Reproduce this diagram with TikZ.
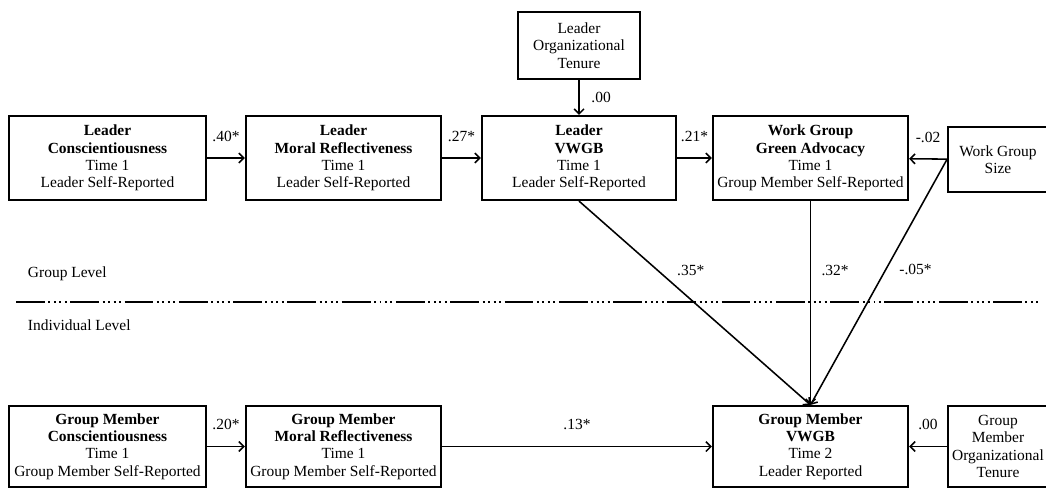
\documentclass[tikz,border=0pt]{standalone}
\usepackage{fontspec}
\setmainfont{Liberation Serif}
\usetikzlibrary{arrows.meta}

\begin{document}
\begin{tikzpicture}[x=0.025cm, y=-0.025cm,
    var/.style={draw, line width=1.5pt, align=center, inner sep=0pt, font=\fontsize{11}{12.4}\selectfont},
    link/.style={-{Straight Barb[length=3.5pt, width=7pt]}, line width=1.1pt},
    coef/.style={font=\fontsize{11}{12}\selectfont}]
    \clip (0,0) rectangle (1046,489);
    % group level
    \node[var, minimum width=4.925cm, minimum height=2.1cm] (LC) at (107.5,158){\textbf{Leader}\\\textbf{Conscientiousness}\\Time 1\\Leader Self-Reported};
    \node[var, minimum width=4.875cm, minimum height=2.1cm] (LM) at (343.5,158){\textbf{Leader}\\\textbf{Moral Reflectiveness}\\Time 1\\Leader Self-Reported};
    \node[var, minimum width=4.85cm, minimum height=2.1cm] (LV) at (579,158){\textbf{Leader}\\\textbf{VWGB}\\Time 1\\Leader Self-Reported};
    \node[var, minimum width=3.05cm, minimum height=1.675cm] (LT) at (579,45.5){Leader\\Organizational\\Tenure};
    \node[var, minimum width=4.875cm, minimum height=2.1cm] (WG) at (810.5,158){\textbf{Work Group}\\\textbf{Green Advocacy}\\Time 1\\Group Member Self-Reported};
    \node[var, minimum width=2.5cm, minimum height=1.625cm] (WS) at (998,159.5){Work Group\\Size};
    % individual level
    \node[var, minimum width=4.925cm, minimum height=2.025cm] (GC) at (107.5,446.5){\textbf{Group Member}\\\textbf{Conscientiousness}\\Time 1\\Group Member Self-Reported};
    \node[var, minimum width=4.875cm, minimum height=2.025cm] (GM) at (343.5,446.5){\textbf{Group Member}\\\textbf{Moral Reflectiveness}\\Time 1\\Group Member Self-Reported};
    \node[var, minimum width=4.875cm, minimum height=2.025cm] (GV) at (810.5,446.5){\textbf{Group Member}\\\textbf{VWGB}\\Time 2\\Leader Reported};
    \node[var, minimum width=2.5cm, minimum height=2.025cm] (GT) at (998,446.5){Group\\Member\\Organizational\\Tenure};
    % levels
    \node[coef, anchor=west] (grp) at (23,274){Group Level};
    \node[coef, anchor=west] (ind) at (23,325){Individual Level};
    \draw[line width=1.3pt, dash pattern=on 20.5pt off 2.5pt on 1.4pt off 2.5pt on 1.4pt off 2.5pt on 1.4pt off 2.5pt on 1.4pt off 2.5pt] (16,302) -- (1040,302);
    % paths
    \draw[link] (LC)--(LM) node[midway, above=8pt, coef]{.40*};
    \draw[link] (LM)--(LV) node[midway, above=8pt, coef]{.27*};
    \draw[link] (LV)--(WG) node[midway, above=8pt, coef]{.21*};
    \draw[link] (WS)--(WG) node[midway, above=8pt, coef]{-.02};
    \draw[link] (LT)--(LV) node[midway, right=5pt, coef]{.00};
    \draw[link] (LV.south)--(GV.north) node[pos=0.34, right=10pt, coef]{.35*};
    \draw[link] (WG.south)--(GV.north) node[pos=0.34, right=4pt, coef]{.32*};
    \draw[link] (WS.west)--(GV.north) node[pos=0.45, right=6pt, coef]{-.05*};
    \draw[link] (GC)--(GM) node[midway, above=8pt, coef]{.20*};
    \draw[link] (GM)--(GV) node[midway, above=8pt, coef]{.13*};
    \draw[link] (GT)--(GV) node[midway, above=8pt, coef]{.00};
  \end{tikzpicture}
\end{document}
